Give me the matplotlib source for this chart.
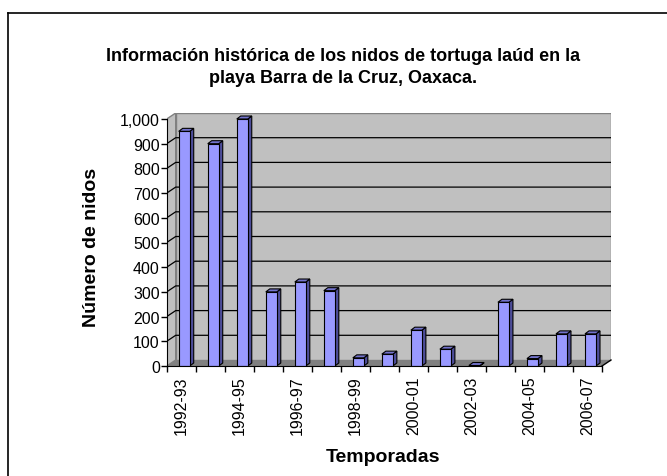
import matplotlib
matplotlib.use("Agg")
import matplotlib.pyplot as plt
from matplotlib.patches import Polygon, Rectangle
from matplotlib.lines import Line2D
from matplotlib.ticker import FuncFormatter

plt.rcParams['font.family'] = ['Liberation Sans', 'DejaVu Sans']

seasons = ["1992-93", "1993-94", "1994-95", "1995-96", "1996-97", "1997-98",
           "1998-99", "1999-00", "2000-01", "2001-02", "2002-03", "2003-04",
           "2004-05", "2005-06", "2006-07"]
nests = [950, 900, 1000, 300, 340, 305, 33, 48, 145, 68, 2, 258, 30, 130, 130]
yticks = list(range(0, 1001, 100))

title = "Información histórica de los nidos de tortuga laúd en la\nplaya Barra de la Cruz, Oaxaca."
ylabel = "Número de nidos"
xlabel = "Temporadas"

W, H = 667, 477
fig = plt.figure(figsize=(W / 100, H / 100), dpi=100)

# pixel geometry of the front plane
px_left, px_right0, px_bottom, px_top0 = 166.7, 602.0, 367.0, 120.0
n = len(seasons)
upx = n / (px_right0 - px_left)          # x data units per pixel
vpx = 1000 / (px_bottom - px_top0)       # y data units per pixel
wdx, wdy = 9 * upx, 6 * vpx              # wall depth offset
bdx, bdy = 4 * upx, 3 * vpx              # bar depth offset

xmax = n + wdx
ymax = 1000 + wdy
px_right = px_left + xmax / upx
px_top = px_bottom - ymax / vpx
ax = fig.add_axes([px_left / W, 1 - px_bottom / H,
                   (px_right - px_left) / W, (px_bottom - px_top) / H])
ax.set_xlim(0, xmax)
ax.set_ylim(0, ymax)
ax.patch.set_visible(False)

# walls and floor
ax.add_patch(Polygon([(0, 0), (n, 0), (n + wdx, wdy), (wdx, wdy)], closed=True,
                     facecolor="#808080", edgecolor="none", zorder=1))
ax.add_patch(Rectangle((wdx, wdy), n, 1000, facecolor="#C0C0C0",
                       edgecolor="#808080", lw=1, zorder=1))
ax.add_patch(Polygon([(0, 0), (wdx, wdy), (wdx, 1000 + wdy), (0, 1000)], closed=True,
                     facecolor="#C0C0C0", edgecolor="#808080", lw=1, zorder=1))
for v in yticks[1:-1]:
    ax.plot([0, wdx, n + wdx], [v, v + wdy, v + wdy], color="black", lw=0.9, zorder=2)
ax.plot([n, n + wdx], [0, wdy], color="black", lw=1, zorder=2, clip_on=False)

# bars
bw = 11 * upx
for i, v in enumerate(nests):
    x0 = i + 0.5 + 3 * upx - bw / 2
    x1 = x0 + bw
    ax.add_patch(Polygon([(x1, 0), (x1 + bdx, bdy), (x1 + bdx, v + bdy), (x1, v)],
                         closed=True, facecolor="#4D4D99", edgecolor="black",
                         lw=0.8, zorder=4))
    ax.add_patch(Polygon([(x0, v), (x1, v), (x1 + bdx, v + bdy), (x0 + bdx, v + bdy)],
                         closed=True, facecolor="#7373CC", edgecolor="black",
                         lw=0.8, zorder=4))
    ax.add_patch(Rectangle((x0, 0), bw, v, facecolor="#9999FF", edgecolor="black",
                           lw=0.8, zorder=5))

# axes
for s in ["top", "right"]:
    ax.spines[s].set_visible(False)
ax.spines["bottom"].set_bounds(0, n)
ax.spines["left"].set_bounds(0, 1000)
ax.spines["bottom"].set_zorder(6)
ax.set_yticks(yticks)
ax.yaxis.set_major_formatter(FuncFormatter(lambda v, p: f"{int(v):,}"))
ax.tick_params(axis="y", length=4, width=1, pad=1, labelsize=11.5)
ax.set_xticks(range(0, n + 1))
ax.set_xticklabels([])
ax.set_xticks([i + 0.5 for i in range(0, n, 2)], minor=True)
ax.set_xticklabels([seasons[i] for i in range(0, n, 2)], minor=True, rotation=90,
                   fontsize=11.5)
ax.tick_params(axis="x", which="major", length=4, width=1)
ax.tick_params(axis="x", which="minor", length=0, pad=7)

fig.text(343.5 / W, 1 - 67.5 / H, title, ha="center", va="center", fontsize=13,
         fontweight="bold", linespacing=1.45)
fig.text(91.5 / W, 1 - 247 / H, ylabel, ha="center", va="center", rotation=90,
         fontsize=14, fontweight="bold")
fig.text(383 / W, 1 - 458 / H, xlabel, ha="center", va="center", fontsize=14,
         fontweight="bold")

# chart border (top and left visible)
fig.add_artist(Line2D([8 / W, 1], [1 - 13.5 / H, 1 - 13.5 / H], color="black", lw=1.2,
                      transform=fig.transFigure))
fig.add_artist(Line2D([8 / W, 8 / W], [0, 1 - 13.5 / H], color="black", lw=1.2,
                      transform=fig.transFigure))

fig.savefig("out.png", dpi=100)
